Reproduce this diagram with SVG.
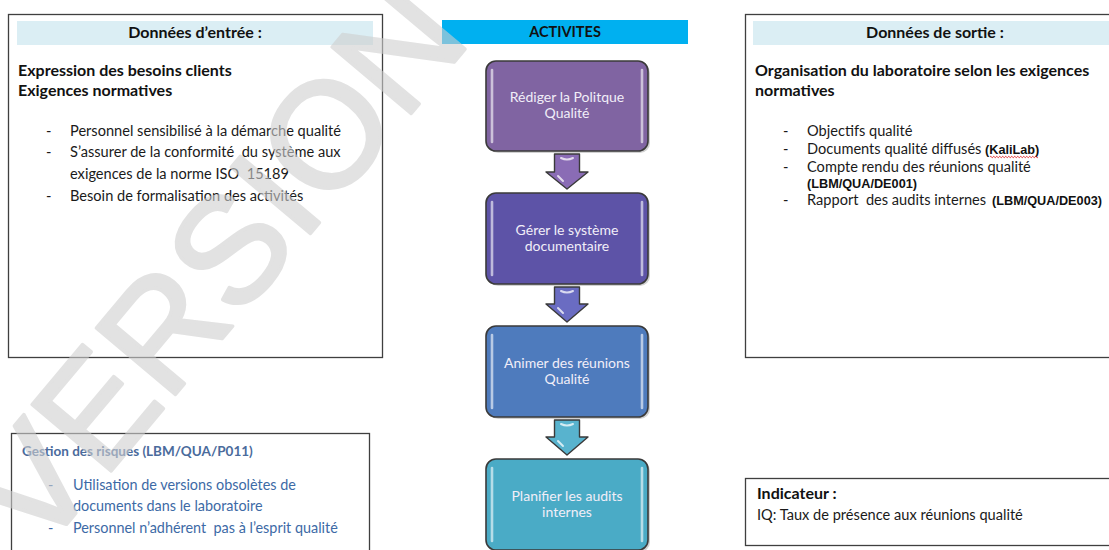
<svg xmlns="http://www.w3.org/2000/svg" width="1109" height="550" viewBox="0 0 1109 550">
  <style>
    .frame { fill: #ffffff; stroke: #3f3f3f; stroke-width: 1.3; }
    .band { fill: #dbeef4; }
    .hd { font-family: Lato, "Open Sans", sans-serif; font-weight: 700; font-size: 16px; fill: #111111; text-anchor: middle; }
    .act { font-family: Lato, "Open Sans", sans-serif; font-weight: 700; font-size: 14.5px; fill: #111111; text-anchor: middle; }
    .h { font-family: Lato, "Open Sans", sans-serif; font-weight: 700; font-size: 16px; fill: #111111; }
    .t { font-family: Lato, "Open Sans", sans-serif; font-size: 14.6px; fill: #1a1a1a; }
    .ar { font-family: "Liberation Sans", Arial, sans-serif; font-weight: 700; font-size: 12.7px; fill: #111111; }
    .risk-h { font-family: Lato, "Open Sans", sans-serif; font-weight: 700; font-size: 13.5px; fill: #4a6b9c; }
    .risk { font-family: Lato, "Open Sans", sans-serif; font-size: 14.4px; fill: #3d6aa6; }
    .step { stroke: #3a3a3a; stroke-width: 1.6; }
    .shadow { fill: #000000; fill-opacity: 0.18; }
    .gloss { fill: none; stroke: #ffffff; stroke-opacity: 0.6; stroke-width: 2.6; stroke-linecap: round; }
    .lbl { font-family: Lato, "Open Sans", sans-serif; font-size: 14px; fill: #f1eef8; text-anchor: middle; }
    .arrow { stroke: #3a3a3a; stroke-width: 1.4; stroke-linejoin: round; }
    .shine { fill: none; stroke: #ffffff; stroke-opacity: 0.75; stroke-width: 2; stroke-linecap: round; }
    .wm { font-family: "Liberation Sans", Arial, sans-serif; font-size: 150px; fill: #cfcfcf; stroke: #cfcfcf; stroke-width: 3.5; stroke-linejoin: round; }
  </style>

  <rect width="1109" height="550" fill="#ffffff"/>

  <!-- Input data panel -->
  <g id="inputs">
    <rect class="frame" x="8.5" y="14.5" width="374" height="343"/>
    <rect class="band" x="17" y="21" width="356" height="24"/>
    <text class="hd" x="195" y="38">Données d’entrée :</text>
    <text class="h" x="18" y="76">Expression des besoins clients</text>
    <text class="h" x="18" y="96">Exigences normatives</text>
    <text class="t" x="46" y="136">-</text>
    <text class="t" x="70" y="136">Personnel sensibilisé à la démarche qualité</text>
    <text class="t" x="46" y="157">-</text>
    <text class="t" x="70" y="157" xml:space="preserve">S’assurer de la conformité  du système aux</text>
    <text class="t" x="70" y="179" xml:space="preserve">exigences de la norme ISO  15189</text>
    <text class="t" x="46" y="201">-</text>
    <text class="t" x="70" y="201">Besoin de formalisation des activités</text>
  </g>

  <!-- Output data panel -->
  <g id="outputs">
    <rect class="frame" x="745.5" y="14.5" width="380" height="343"/>
    <rect class="band" x="753" y="21" width="360" height="24"/>
    <text class="hd" x="935" y="38">Données de sortie :</text>
    <text class="h" x="755" y="76">Organisation du laboratoire selon les exigences</text>
    <text class="h" x="755" y="96">normatives</text>
    <text class="t" x="783" y="136">-</text>
    <text class="t" x="807" y="136">Objectifs qualité</text>
    <text class="t" x="783" y="154">-</text>
    <text class="t" x="807" y="154">Documents qualité diffusés</text>
    <text class="ar" x="985" y="154">(KaliLab)</text>
    <path d="M990,157 q0.75,-1.4 1.5,0 t1.5,0 t1.5,0 t1.5,0 t1.5,0 t1.5,0 t1.5,0 t1.5,0 t1.5,0 t1.5,0 t1.5,0 t1.5,0 t1.5,0 t1.5,0 t1.5,0 t1.5,0 t1.5,0 t1.5,0 t1.5,0 t1.5,0 t1.5,0 t1.5,0 t1.5,0 t1.5,0 t1.5,0 t1.5,0 t1.5,0 t1.5,0 t1.5,0 t1.5,0 t1.5,0 t1.5,0" fill="none" stroke="#e02020" stroke-width="0.9"/>
    <text class="t" x="783" y="172">-</text>
    <text class="t" x="807" y="172">Compte rendu des réunions qualité</text>
    <text class="ar" x="807" y="188">(LBM/QUA/DE001)</text>
    <text class="t" x="783" y="205">-</text>
    <text class="t" x="807" y="205" xml:space="preserve">Rapport  des audits internes</text>
    <text class="ar" x="992" y="205">(LBM/QUA/DE003)</text>
  </g>

  <!-- Activities header -->
  <g id="activities-header">
    <rect x="442" y="20" width="246" height="24" fill="#00b0f0"/>
    <text class="act" x="565" y="37">ACTIVITES</text>
  </g>

  <!-- Process steps -->
  <g id="step-1">
    <rect class="shadow" x="488" y="63" width="162" height="90" rx="10"/>
    <rect class="step" x="486" y="61" width="162" height="90" rx="10" fill="#8064a2"/>
    <line class="gloss" x1="492" y1="70" x2="492" y2="142"/>
    <line class="gloss" x1="642" y1="70" x2="642" y2="142"/>
    <text class="lbl" x="567" y="102">Rédiger la Politque</text>
    <text class="lbl" x="567" y="118">Qualité</text>
  </g>
  <g id="step-2">
    <rect class="shadow" x="488" y="195" width="162" height="91" rx="10"/>
    <rect class="step" x="486" y="193" width="162" height="91" rx="10" fill="#5d53a7"/>
    <line class="gloss" x1="492" y1="202" x2="492" y2="275"/>
    <line class="gloss" x1="642" y1="202" x2="642" y2="275"/>
    <text class="lbl" x="567" y="235">Gérer le système</text>
    <text class="lbl" x="567" y="251">documentaire</text>
  </g>
  <g id="step-3">
    <rect class="shadow" x="488" y="328" width="162" height="91" rx="10"/>
    <rect class="step" x="486" y="326" width="162" height="91" rx="10" fill="#4e7bbd"/>
    <line class="gloss" x1="492" y1="335" x2="492" y2="408"/>
    <line class="gloss" x1="642" y1="335" x2="642" y2="408"/>
    <text class="lbl" x="567" y="368">Animer des réunions</text>
    <text class="lbl" x="567" y="384">Qualité</text>
  </g>
  <g id="step-4">
    <rect class="shadow" x="488" y="461" width="162" height="91" rx="10"/>
    <rect class="step" x="486" y="459" width="162" height="91" rx="10" fill="#4aabc6"/>
    <line class="gloss" x1="492" y1="468" x2="492" y2="541"/>
    <line class="gloss" x1="642" y1="468" x2="642" y2="541"/>
    <text class="lbl" x="567" y="501">Planifier les audits</text>
    <text class="lbl" x="567" y="517">internes</text>
  </g>

  <!-- Block arrows between steps -->
  <g id="connectors">
    <path class="arrow" d="M554.5,154 H579.5 V172 H588 L567,189 L546,172 H554.5 Z" fill="#8a6cb5"/>
    <path class="shine" d="M561,158 Q567,161 573,158"/>
    <path class="shine" d="M558,176 L563,181"/>
    <path class="arrow" d="M554.5,287 H579.5 V304 H588 L567,322 L546,304 H554.5 Z" fill="#6a6cc2"/>
    <path class="shine" d="M561,291 Q567,294 573,291"/>
    <path class="shine" d="M558,308 L563,313"/>
    <path class="arrow" d="M554.5,420 H579.5 V437 H588 L567,455 L546,437 H554.5 Z" fill="#58b3ce"/>
    <path class="shine" d="M561,424 Q567,427 573,424"/>
    <path class="shine" d="M558,441 L563,446"/>
  </g>

  <!-- Risk management panel -->
  <g id="risks">
    <rect class="frame" x="11.5" y="433.5" width="358" height="130"/>
    <text class="risk-h" x="22" y="456">Gestion des risques (LBM/QUA/P011)</text>
    <text class="risk" x="48" y="490">-</text>
    <text class="risk" x="73" y="490">Utilisation de versions obsolètes de</text>
    <text class="risk" x="73" y="511">documents dans le laboratoire</text>
    <text class="risk" x="48" y="533">-</text>
    <text class="risk" x="73" y="533" xml:space="preserve">Personnel n’adhérent  pas à l’esprit qualité</text>
  </g>

  <!-- Indicator panel -->
  <g id="indicator">
    <rect class="frame" x="745.5" y="478.5" width="380" height="67"/>
    <text class="h" x="757" y="499">Indicateur :</text>
    <text class="t" x="757" y="520">IQ: Taux de présence aux réunions qualité</text>
  </g>

  <!-- Diagonal watermark over the page -->
  <g id="watermark" opacity="0.6">
    <text class="wm" transform="translate(39,557) rotate(-50)">VERSION</text>
  </g>
</svg>
